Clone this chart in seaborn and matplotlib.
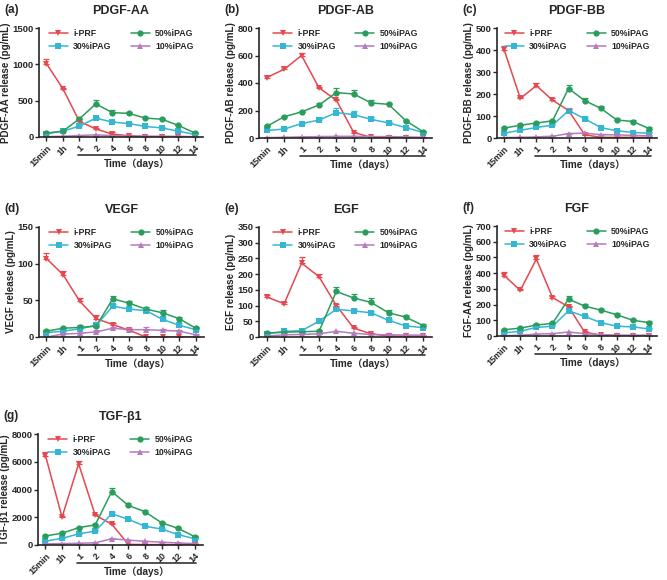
import pandas as pd
import matplotlib.pyplot as plt
import numpy as np
import seaborn as sns

sns.set_style('ticks')
plt.rcParams['font.family'] = ['Liberation Sans', 'Noto Sans CJK SC', 'DejaVu Sans']
plt.rcParams['font.weight'] = 'bold'
plt.rcParams['axes.labelweight'] = 'bold'
plt.rcParams['axes.titleweight'] = 'bold'

time_labels = ['15min', '1h', '1', '2', '4', '6', '8', '10', '12', '14']
groups = ['i-PRF', '30%iPAG', '50%iPAG', '10%iPAG']
colors = {'i-PRF': '#E5484F', '30%iPAG': '#35B6D3', '50%iPAG': '#2A9D5C', '10%iPAG': '#B57BBE'}
markers = {'i-PRF': 'v', '30%iPAG': 's', '50%iPAG': 'o', '10%iPAG': '^'}

# PDGF-AA
aa_prf = [1010, 665, 215, 110, 40, 18, 6, 5, 4, 3]
aa_30 = [45, 80, 150, 260, 205, 185, 145, 125, 80, 35]
aa_50 = [55, 80, 250, 455, 335, 325, 260, 245, 160, 55]
aa_10 = [5, 10, 20, 30, 20, 15, 10, 10, 8, 5]
aa_prf_err = [70, 15, 10, 8, 25, 5, 3, 3, 2, 2]
aa_30_err = [10, 10, 15, 20, 15, 15, 10, 10, 10, 8]
aa_50_err = [10, 10, 15, 50, 35, 20, 15, 15, 10, 10]
aa_10_err = [2, 2, 3, 3, 3, 3, 2, 2, 2, 2]

# PDGF-AB
ab_prf = [440, 500, 600, 365, 275, 40, 5, 3, 2, 2]
ab_30 = [55, 65, 105, 130, 185, 170, 135, 110, 75, 40]
ab_50 = [85, 155, 190, 240, 330, 320, 255, 245, 125, 45]
ab_10 = [3, 5, 8, 10, 12, 12, 10, 10, 8, 5]
ab_prf_err = [8, 15, 15, 8, 10, 5, 2, 2, 1, 1]
ab_30_err = [8, 8, 10, 20, 30, 25, 15, 10, 8, 5]
ab_50_err = [8, 8, 8, 12, 35, 30, 20, 12, 8, 8]
ab_10_err = [2, 2, 2, 2, 3, 3, 2, 2, 2, 2]

# PDGF-BB
bb_prf = [400, 180, 238, 172, 125, 15, 3, 3, 3, 3]
bb_30 = [22, 35, 48, 58, 125, 88, 47, 33, 25, 22]
bb_50 = [45, 58, 68, 78, 225, 170, 135, 82, 75, 43]
bb_10 = [2, 3, 5, 8, 20, 22, 15, 14, 12, 10]
bb_prf_err = [20, 8, 12, 10, 8, 3, 1, 1, 1, 1]
bb_30_err = [5, 5, 6, 6, 10, 8, 5, 5, 4, 4]
bb_50_err = [5, 5, 6, 6, 18, 12, 10, 8, 6, 6]
bb_10_err = [1, 1, 1, 2, 3, 3, 2, 2, 2, 2]

# VEGF
vegf_prf = [107, 85, 49, 25, 17, 9, 0, 0, 0, 0]
vegf_30 = [6, 8, 11, 16, 42, 38, 36, 24, 16, 10]
vegf_50 = [8, 12, 13, 15, 52, 46, 38, 33, 25, 12]
vegf_10 = [0, 4, 5, 7, 12, 10, 10, 9, 8, 3]
vegf_prf_err = [7, 5, 4, 5, 2, 2, 0, 0, 0, 0]
vegf_30_err = [2, 2, 2, 3, 3, 3, 3, 3, 3, 2]
vegf_50_err = [2, 2, 3, 3, 4, 3, 3, 4, 2, 2]
vegf_10_err = [1, 1, 1, 2, 2, 2, 4, 2, 2, 1]

# EGF
egf_prf = [127, 106, 235, 192, 100, 28, 10, 3, 2, 2]
egf_30 = [10, 18, 20, 50, 88, 83, 77, 53, 35, 30]
egf_50 = [13, 15, 17, 18, 145, 124, 110, 77, 63, 36]
egf_10 = [3, 7, 8, 10, 18, 12, 8, 7, 6, 6]
egf_prf_err = [8, 5, 18, 10, 5, 3, 2, 1, 1, 1]
egf_30_err = [3, 3, 3, 5, 8, 6, 5, 5, 4, 4]
egf_50_err = [3, 3, 3, 3, 15, 12, 15, 10, 6, 5]
egf_10_err = [1, 1, 1, 1, 2, 2, 1, 1, 1, 1]

# FGF
fgf_prf = [385, 290, 490, 245, 185, 25, 5, 3, 2, 2]
fgf_30 = [20, 30, 55, 62, 160, 125, 85, 62, 58, 45]
fgf_50 = [40, 50, 70, 80, 235, 190, 165, 135, 100, 85]
fgf_10 = [2, 5, 12, 15, 25, 15, 8, 5, 5, 5]
fgf_prf_err = [25, 12, 25, 10, 8, 10, 2, 1, 1, 1]
fgf_30_err = [5, 5, 6, 6, 10, 8, 6, 5, 5, 5]
fgf_50_err = [6, 6, 8, 8, 20, 15, 10, 10, 8, 8]
fgf_10_err = [1, 1, 2, 2, 3, 2, 2, 1, 1, 1]

# TGF-b1
tgf_prf = [6450, 2000, 5850, 2150, 1500, 50, 30, 30, 30, 30]
tgf_30 = [280, 480, 800, 1000, 2250, 1850, 1350, 1150, 750, 450]
tgf_50 = [650, 850, 1250, 1450, 3850, 2850, 2400, 1600, 1200, 600]
tgf_10 = [80, 100, 120, 160, 450, 350, 270, 200, 150, 100]
tgf_prf_err = [250, 80, 200, 80, 60, 20, 10, 10, 10, 10]
tgf_30_err = [60, 60, 70, 80, 150, 100, 80, 80, 70, 60]
tgf_50_err = [60, 60, 80, 80, 250, 150, 100, 80, 80, 80]
tgf_10_err = [20, 20, 20, 20, 40, 30, 30, 20, 20, 20]

panels = [
    ('(a)', 'PDGF-AA', 'PDGF-AA release (pg/mL)', 1500, 500,
     [aa_prf, aa_30, aa_50, aa_10], [aa_prf_err, aa_30_err, aa_50_err, aa_10_err], (39, 203, 28, 137)),
    ('(b)', 'PDGF-AB', 'PDGF-AB release (pg/mL)', 800, 200,
     [ab_prf, ab_30, ab_50, ab_10], [ab_prf_err, ab_30_err, ab_50_err, ab_10_err], (259, 432, 28, 138)),
    ('(c)', 'PDGF-BB', 'PDGF-BB release (pg/mL)', 500, 100,
     [bb_prf, bb_30, bb_50, bb_10], [bb_prf_err, bb_30_err, bb_50_err, bb_10_err], (497, 657, 28, 138)),
    ('(d)', 'VEGF', 'VEGF release (pg/mL)', 150, 50,
     [vegf_prf, vegf_30, vegf_50, vegf_10], [vegf_prf_err, vegf_30_err, vegf_50_err, vegf_10_err], (39, 204, 227, 337)),
    ('(e)', 'EGF', 'EGF release (pg/mL)', 350, 50,
     [egf_prf, egf_30, egf_50, egf_10], [egf_prf_err, egf_30_err, egf_50_err, egf_10_err], (259, 432, 227, 337)),
    ('(f)', 'FGF', 'FGF-AA release (pg/mL)', 700, 100,
     [fgf_prf, fgf_30, fgf_50, fgf_10], [fgf_prf_err, fgf_30_err, fgf_50_err, fgf_10_err], (497, 657, 226, 336)),
    ('(g)', 'TGF-β1', 'TGF-β1 release (pg/mL)', 8000, 2000,
     [tgf_prf, tgf_30, tgf_50, tgf_10], [tgf_prf_err, tgf_30_err, tgf_50_err, tgf_10_err], (38, 203, 434, 545)),
]

W, H = 667, 580
fig = plt.figure(figsize=(W / 100, H / 100), dpi=100)
pos = np.arange(len(time_labels))

for letter, title, ylabel, ymax, ystep, means, errs, box in panels:
    x0, x1, y0, y1 = box
    ax = fig.add_axes([x0 / W, 1 - y1 / H, (x1 - x0) / W, (y1 - y0) / H])
    rows = []
    for g, vals in zip(groups, means):
        for p, v in zip(pos, vals):
            rows.append({'pos': p, 'value': v, 'group': g})
    df = pd.DataFrame(rows)
    sns.lineplot(data=df, x='pos', y='value', hue='group', style='group', hue_order=groups,
                 style_order=groups, palette=colors, markers=markers, dashes=False,
                 markersize=4.5, markeredgewidth=0, linewidth=1.1, ax=ax)
    for g, vals, e in zip(groups, means, errs):
        ax.errorbar(pos, vals, yerr=[np.zeros(len(e)), e], fmt='none', ecolor=colors[g],
                    elinewidth=0.9, capsize=2.2, capthick=0.9)
    ax.set_xlim(-0.45, len(time_labels) - 0.5)
    ax.set_ylim(0, ymax)
    ax.set_yticks(np.arange(0, ymax + 1, ystep))
    ax.set_xticks(pos)
    ax.set_xticklabels(time_labels, rotation=45, ha='right', rotation_mode='anchor', fontsize=6.5)
    ax.tick_params(axis='y', labelsize=6.8, length=3, width=1, pad=1)
    ax.tick_params(axis='x', length=3, width=1, pad=1.5)
    for lbl in ax.get_xticklabels() + ax.get_yticklabels():
        lbl.set_fontweight('bold')
    sns.despine(ax=ax)
    for s in ['left', 'bottom']:
        ax.spines[s].set_linewidth(1.2)
    ax.set_xlabel('')
    ax.set_ylabel(ylabel, fontsize=7.1, labelpad=1)
    ax.set_title(title, fontsize=9, pad=10)
    handles, labels = ax.get_legend_handles_labels()
    ax.legend(handles, labels, ncol=2, frameon=False, fontsize=6.3, loc='upper center',
              bbox_to_anchor=(0.5, 1.06), handlelength=2.2, columnspacing=2.2,
              labelspacing=0.45, handletextpad=0.6)
    # underline for days and axis title
    ax.plot([pos[2] - 0.1, pos[-1] + 0.1], [-0.165, -0.165], color='#333333', lw=1.2,
            transform=ax.get_xaxis_transform(), clip_on=False)
    ax.text(np.mean([pos[2], pos[-1]]), -0.245, 'Time（days）', transform=ax.get_xaxis_transform(),
            ha='center', va='center', fontsize=7.2, fontweight='bold')
    fig.text((x0 - 35) / W, 1 - (y0 - 18) / H, letter, fontsize=8.5, va='center', ha='left')

plt.savefig('out.png', dpi=100)
